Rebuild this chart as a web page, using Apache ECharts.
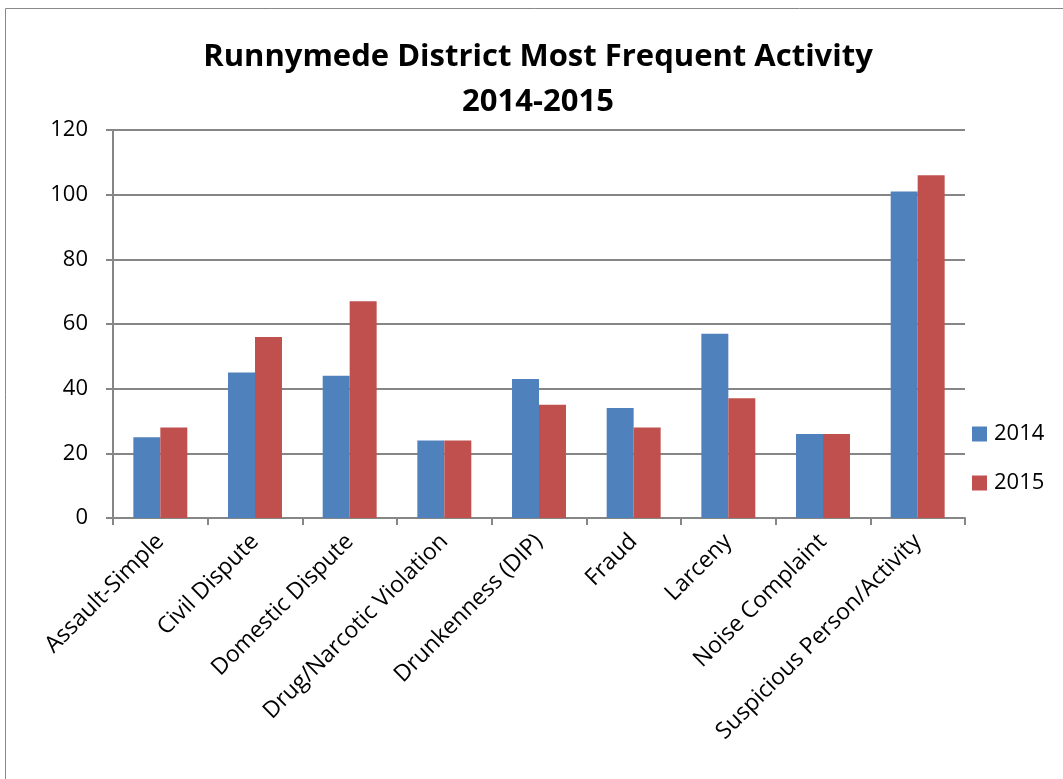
<!DOCTYPE html>
<html><head><meta charset="utf-8">
<script src="https://cdn.jsdelivr.net/npm/echarts@6/dist/echarts.min.js"></script>
<style>html,body{margin:0;padding:0;background:#fff}#c{width:1063px;height:779px}</style>
</head><body><div id="c"></div>
<script>
const categories = ["Assault-Simple","Civil Dispute","Domestic Dispute","Drug/Narcotic Violation","Drunkenness (DIP)","Fraud","Larceny","Noise Complaint","Suspicious Person/Activity"];
const values2014 = [25,45,44,24,43,34,57,26,101];
const values2015 = [28,56,67,24,35,28,37,26,106];
const yTicks = [0,20,40,60,80,100,120];
const seriesNames = ["2014","2015"];

const chart = echarts.init(document.getElementById('c'));
const font = "'Open Sans', 'Noto Sans', sans-serif";
chart.setOption({
  animation:false,
  backgroundColor:'#fff',
  graphic:[{type:'rect',shape:{x:5.5,y:8.5,width:1200,height:900},style:{fill:'none',stroke:'#888',lineWidth:1}}],
  title:{text:'Runnymede District Most Frequent Activity\n2014-2015',left:533,top:30,textAlign:'center',
    textStyle:{fontFamily:font,fontSize:31,fontWeight:'bold',color:'#000',lineHeight:45}},
  legend:{orient:'vertical',left:967,top:417,itemWidth:15,itemHeight:15,itemGap:25,icon:'rect',
    textStyle:{fontFamily:font,fontSize:22,color:'#000',lineHeight:24,padding:[0,0,0,2]},data:seriesNames},
  grid:{left:113,top:130,width:852,height:388,containLabel:false},
  xAxis:{type:'category',data:categories,
    axisLine:{lineStyle:{color:'#868686',width:2}},
    axisTick:{show:true,length:7,interval:0,alignWithLabel:false,lineStyle:{color:'#868686',width:2}},
    axisLabel:{interval:0,rotate:45,fontFamily:font,fontSize:23,color:'#000',margin:20}},
  yAxis:{type:'value',min:0,max:120,interval:20,
    axisLine:{show:true,lineStyle:{color:'#868686',width:2}},
    axisTick:{show:true,length:7,lineStyle:{color:'#868686',width:2}},
    splitLine:{lineStyle:{color:'#868686',width:2}},
    axisLabel:{fontFamily:font,fontSize:22,color:'#000',margin:25,
      formatter:v=>yTicks.includes(v)?String(v):''}},
  series:[
    {name:seriesNames[0],type:'bar',data:values2014,barGap:'0%',barCategoryGap:'43%',
      itemStyle:{color:'#4f81bd'}},
    {name:seriesNames[1],type:'bar',data:values2015,barGap:'0%',barCategoryGap:'43%',
      itemStyle:{color:'#c0504d'}}
  ]
});
</script></body></html>
